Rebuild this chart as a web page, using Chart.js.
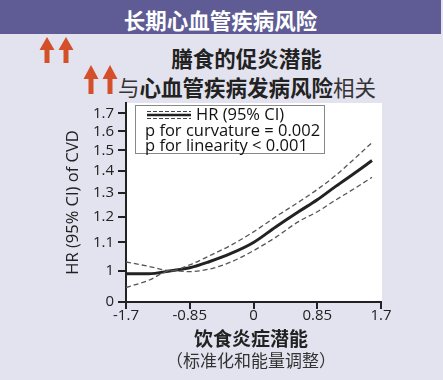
<!DOCTYPE html>
<html>
<head>
<meta charset="utf-8">
<script src="https://cdn.jsdelivr.net/npm/chart.js@4"></script>
<style>
  body { margin: 0; width: 443px; height: 380px; background: #e3e2ef; overflow: hidden; position: relative; font-family: "Noto Sans CJK SC", "Noto Sans", sans-serif; }
  .header { position: absolute; left: 0; top: 0; width: 441px; height: 34px; overflow: hidden; background: #5f5c95; color: #fff; font-weight: bold; font-size: 21.5px; text-align: center; line-height: 39px; }
  .line1 { position: absolute; left: 0; width: 493px; top: 43px; line-height: 30px; text-align: center; font-size: 21.5px; font-weight: bold; color: #222; }
  .line2 { position: absolute; left: 118px; top: 72px; line-height: 30px; font-size: 21.5px; color: #333; white-space: nowrap; }
  .line2 b { color: #222; }
  .xt1 { position: absolute; left: 0; width: 502px; top: 326px; line-height: 24px; text-align: center; font-size: 19px; font-weight: bold; color: #222; }
  .xt2 { position: absolute; left: 0; width: 502px; top: 348px; line-height: 24px; text-align: center; font-size: 17px; color: #333; }
  svg { position: absolute; left: 0; top: 0; }
  canvas { position: absolute; left: 0; top: 0; }
</style>
</head>
<body>
<div class="header">长期心血管疾病风险</div>
<svg width="443" height="380">
  <g fill="#d4502a">
    <polygon points="47,37 54.5,50 49.5,50 49.5,63 44.5,63 44.5,50 39.5,50"/>
    <polygon points="66,37 73.5,50 68.5,50 68.5,63 63.5,63 63.5,50 58.5,50"/>
    <polygon points="91,65 98.5,79 93.5,79 93.5,94 88.5,94 88.5,79 83.5,79"/>
    <polygon points="110,65 117.5,79 112.5,79 112.5,94 107.5,94 107.5,79 102.5,79"/>
  </g>
</svg>
<div class="line1">膳食的促炎潜能</div>
<div class="line2">与<b>心血管疾病发病风险</b>相关</div>
<canvas id="chart" width="443" height="380"></canvas>
<div class="xt1">饮食炎症潜能</div>
<div class="xt2">（标准化和能量调整）</div>
<script>
// data
const xValues = [-1.7, -1.4, -1.1, -0.85, -0.6, -0.3, 0, 0.3, 0.6, 0.85, 1.1, 1.35, 1.58];
const hr      = [0.99, 0.99, 1.0, 1.01, 1.03, 1.06, 1.10, 1.16, 1.22, 1.27, 1.33, 1.39, 1.45];
const upperCI = [1.03, 1.015, 1.0, 1.02, 1.05, 1.09, 1.14, 1.20, 1.26, 1.315, 1.38, 1.46, 1.54];
const lowerCI = [0.945, 0.968, 1.0, 0.997, 1.005, 1.03, 1.07, 1.12, 1.18, 1.22, 1.27, 1.32, 1.37];

const xTicks = [-1.7, -0.85, 0, 0.85, 1.7];
const yTicks = [0.9, 1, 1.1, 1.2, 1.3, 1.4, 1.5, 1.6, 1.7];
const legendLines = ['HR (95% CI)', 'p for curvature = 0.002', 'p for linearity < 0.001'];

const toPoints = arr => arr.map((v, i) => ({ x: xValues[i], y: v }));
const tickFont = { family: 'Open Sans', size: 15 };

// white plot area behind the curves
const plotBg = {
    id: 'plotBg',
    beforeDraw(chart) {
        const { ctx, chartArea: a } = chart;
        ctx.save();
        ctx.fillStyle = '#ffffff';
        ctx.fillRect(a.left, a.top, a.right - a.left + 1, a.bottom - a.top);
        ctx.restore();
    }
};

// boxed legend in top-left corner
const boxLegend = {
    id: 'boxLegend',
    afterDatasetsDraw(chart) {
        const { ctx, chartArea: a } = chart;
        const x0 = a.left + 9, y0 = a.top + 2;
        ctx.save();
        ctx.fillStyle = '#fff';
        ctx.fillRect(x0, y0, 189, 48);
        ctx.strokeStyle = '#888';
        ctx.lineWidth = 1;
        ctx.strokeRect(x0 + 0.5, y0 + 0.5, 189, 48);

        // symbol: solid line between two dashed lines
        const sy = y0 + 10;
        ctx.strokeStyle = '#444';
        ctx.lineWidth = 1;
        ctx.setLineDash([4, 2]);
        [-3.5, 3.5].forEach(d => {
            ctx.beginPath();
            ctx.moveTo(x0 + 12, sy + d);
            ctx.lineTo(x0 + 56, sy + d);
            ctx.stroke();
        });
        ctx.setLineDash([]);
        ctx.strokeStyle = '#222';
        ctx.lineWidth = 2.5;
        ctx.beginPath();
        ctx.moveTo(x0 + 12, sy);
        ctx.lineTo(x0 + 56, sy);
        ctx.stroke();

        ctx.fillStyle = '#111';
        ctx.font = '16.5px "Open Sans"';
        ctx.textBaseline = 'middle';
        ctx.fillText(legendLines[0], x0 + 61, y0 + 10);
        ctx.fillText(legendLines[1], x0 + 10, y0 + 26);
        ctx.fillText(legendLines[2], x0 + 10, y0 + 41);
        ctx.restore();
    }
};

new Chart(document.getElementById('chart'), {
    type: 'line',
    data: {
        datasets: [
            { data: toPoints(upperCI), borderColor: '#555', borderWidth: 1.3, borderDash: [5, 3] },
            { data: toPoints(lowerCI), borderColor: '#555', borderWidth: 1.3, borderDash: [5, 3] },
            { data: toPoints(hr), borderColor: '#222', borderWidth: 3 }
        ]
    },
    options: {
        responsive: false,
        animation: false,
        layout: { padding: { top: 103, right: 62, left: 0, bottom: 0 } },
        elements: { point: { radius: 0 }, line: { cubicInterpolationMode: 'monotone', fill: false } },
        plugins: { legend: { display: false }, tooltip: { enabled: false } },
        scales: {
            x: {
                type: 'linear',
                min: -1.7,
                max: 1.7,
                afterBuildTicks: s => { s.ticks = xTicks.map(v => ({ value: v })); },
                afterFit: s => { s.height = 78; },
                ticks: { font: tickFont, color: '#222', padding: -2, maxRotation: 0, callback: v => String(v) },
                grid: { drawOnChartArea: false, tickLength: 7, color: '#222', lineWidth: 2 },
                border: { color: '#222', width: 2 }
            },
            y: {
                type: 'logarithmic',
                min: 0.9,
                max: 1.76,
                afterBuildTicks: s => { s.ticks = yTicks.map(v => ({ value: v })); },
                afterFit: s => { s.width = 126; },
                ticks: { font: tickFont, color: '#222', padding: 4, autoSkip: false, callback: v => v === 0.9 ? '0' : String(v) },
                grid: { drawOnChartArea: false, tickLength: 8, color: '#222', lineWidth: 2 },
                border: { color: '#222', width: 2 },
                title: { display: true, text: 'HR (95% CI) of CVD', font: { family: 'Open Sans', size: 16.5 }, color: '#222', padding: { top: 63 } }
            }
        }
    },
    plugins: [plotBg, boxLegend]
});
</script>
</body>
</html>
